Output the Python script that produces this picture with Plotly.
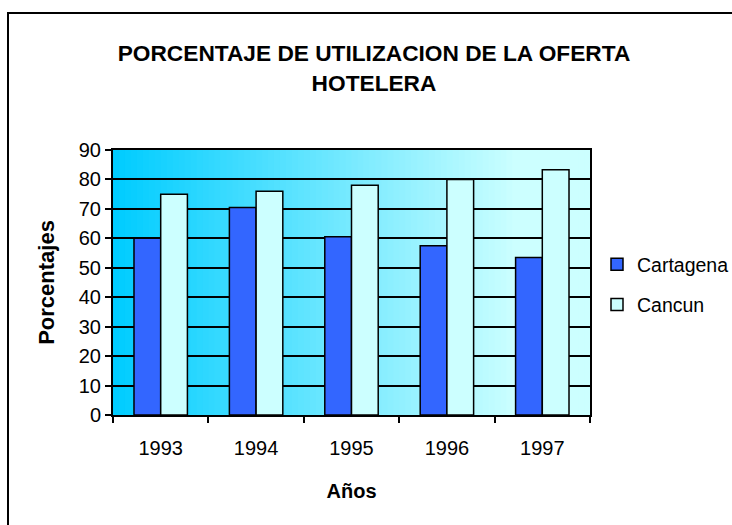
import plotly.graph_objects as go

years = ["1993", "1994", "1995", "1996", "1997"]
cartagena = [60, 70.5, 60.5, 57.5, 53.5]
cancun = [75, 76, 78, 80, 83.3]
y_ticks = [0, 10, 20, 30, 40, 50, 60, 70, 80, 90]

W, H = 732, 525
PL, PR, PT, PB = 113, 590, 150, 415  # plot area in pixels
L, T = PL, PT
pw, ph = PR - PL, PB - PT
R = W - L - pw
B = H - T - ph

def px_x(p):
    return (p - PL) / pw

def px_y(p):
    return (PB - p) / ph

fig = go.Figure()
fig.add_trace(go.Bar(x=years, y=cartagena, name="Cartagena", legendgroup="a",
                     marker=dict(color="#3366FF", line=dict(color="black", width=1.5))))
fig.add_trace(go.Bar(x=years, y=cancun, name="Cancun", legendgroup="b",
                     marker=dict(color="#CCFFFF", line=dict(color="black", width=1.5))))

# horizontal gradient background of plot area
N = 80
c0 = (0, 204, 255)
c1 = (204, 255, 255)
shapes = []
for i in range(N):
    t = min(1.0, (i / (N - 1)) / 0.85)
    c = tuple(int(round(c0[k] + (c1[k] - c0[k]) * t)) for k in range(3))
    shapes.append(dict(type="rect", xref="x domain", yref="y domain",
                       x0=i / N, x1=(i + 1) / N + 0.002, y0=0, y1=1,
                       fillcolor="rgb(%d,%d,%d)" % c, line=dict(width=0), layer="below"))
# outer chart border
shapes.append(dict(type="rect", xref="paper", yref="paper",
                   x0=px_x(8), x1=px_x(800), y0=px_y(13), y1=px_y(600),
                   line=dict(color="black", width=2), fillcolor="rgba(0,0,0,0)", layer="above"))

fig.update_layout(
    width=W, height=H,
    margin=dict(l=L, r=R, t=T, b=B, autoexpand=False),
    paper_bgcolor="white", plot_bgcolor="rgba(0,0,0,0)",
    font=dict(family="Liberation Sans, Arial, sans-serif", color="black", size=20),
    barmode="group", bargap=0.44, bargroupgap=0,
    shapes=shapes,
    title=dict(text="<b>PORCENTAJE DE UTILIZACION DE LA OFERTA<br>HOTELERA</b>",
               x=px_x(374), xanchor="center", xref="paper",
               y=1 - 61 / H, yanchor="middle",
               font=dict(size=22.7, color="black")),
    legend=dict(x=px_x(597), xanchor="left", y=px_y(245), yanchor="top",
                bgcolor="rgba(0,0,0,0)", font=dict(size=19.5),
                tracegroupgap=12, traceorder="grouped"),
    showlegend=True,
)
fig.update_xaxes(type="category", showline=True, linecolor="black", linewidth=2, mirror=True,
                 ticks="outside", tickson="boundaries", ticklen=6, tickcolor="black", tickwidth=2,
                 showgrid=False, ticklabelstandoff=14, tickfont=dict(size=20),
                 title=dict(text="<b>Años</b>", font=dict(size=20), standoff=26))
fig.update_yaxes(range=[0, 90], tickvals=y_ticks, showline=True, linecolor="black", linewidth=2,
                 mirror=True, ticks="outside", ticklen=6, tickcolor="black", tickwidth=2,
                 showgrid=True, gridcolor="black", gridwidth=1.5, zeroline=False,
                 tickfont=dict(size=20),
                 title=dict(text="<b>Porcentajes</b>", font=dict(size=22), standoff=18))

fig.write_html("out.html", config={"displayModeBar": False},
               post_script="document.body.style.margin='0px';")
